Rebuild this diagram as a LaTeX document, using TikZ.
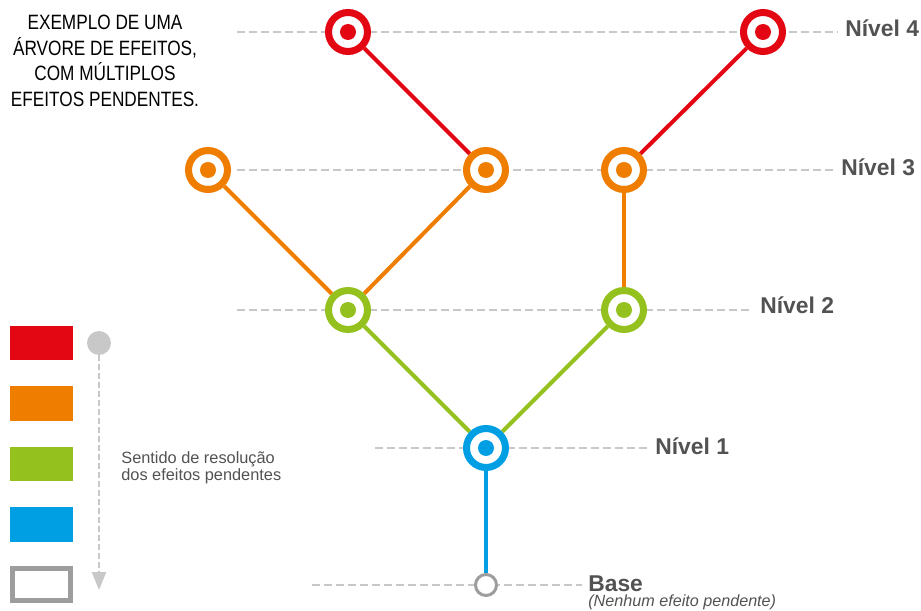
\documentclass[tikz,border=0pt]{standalone}
\usepackage{fontspec}
\setmainfont{Liberation Sans}
\newfontfamily\titlefont[FakeStretch=0.83]{Liberation Sans}
\usepackage{xcolor}
\usetikzlibrary{arrows.meta,backgrounds}

\definecolor{effred}{HTML}{E30613}
\definecolor{efforange}{HTML}{EF7D00}
\definecolor{effgreen}{HTML}{95C11F}
\definecolor{effblue}{HTML}{009FE3}
\definecolor{guidegray}{HTML}{C8C8C8}
\definecolor{basegray}{HTML}{9D9D9D}
\definecolor{labelgray}{HTML}{525252}

\tikzset{
  effect/.style={circle,draw=#1,line width=0.14cm,fill=white,minimum size=0.78cm,inner sep=0pt,
    path picture={\fill[#1] (path picture bounding box.center) circle (0.16cm);}},
  basept/.style={circle,draw=basegray,line width=0.06cm,fill=white,minimum size=0.42cm,inner sep=0pt},
  link/.style={draw=#1,line width=0.08cm},
  guide/.style={draw=guidegray,line width=0.055cm,dash pattern=on 0.16cm off 0.08cm,shorten >=0.16cm},
  level/.style={anchor=base west,inner sep=0pt,text=labelgray,font=\bfseries\fontsize{13}{15}\selectfont},
  legbox/.style={fill=#1,minimum width=1.26cm,minimum height=0.7cm,inner sep=0pt},
}

\begin{document}
\begin{tikzpicture}[x=0.02cm,y=-0.02cm]
        \useasboundingbox (0,0) rectangle (921,611);
        \node[align=center,font=\titlefont\fontsize{11.8}{14.5}\selectfont] (title) at (105,61)
            {EXEMPLO DE UMA\\ÁRVORE DE EFEITOS,\\COM MÚLTIPLOS\\EFEITOS PENDENTES.};
        % levels
        \node[level] (lv4) at (845,37) {Nível 4};
        \node[level] (lv3) at (841,176) {Nível 3};
        \node[level] (lv2) at (760,314) {Nível 2};
        \node[level] (lv1) at (655,455) {Nível 1};
        \node[level] (lvb) at (588,592) {Base};
        \node[anchor=base west,inner sep=0pt,text=labelgray,font=\itshape\fontsize{9.2}{11}\selectfont] (none) at (588,607) {(Nenhum efeito pendente)};
        % effects
        \node[effect=effred] (r1) at (348,32) {};
        \node[effect=effred] (r2) at (763,32) {};
        \node[effect=efforange] (o1) at (208,170) {};
        \node[effect=efforange] (o2) at (486,170) {};
        \node[effect=efforange] (o3) at (624,170) {};
        \node[effect=effgreen] (g1) at (348,310) {};
        \node[effect=effgreen] (g2) at (624,310) {};
        \node[effect=effblue] (b1) at (486,448) {};
        \node[basept] (base) at (486,585) {};
        \begin{scope}[on background layer]
            \draw[guide] (237,32) -- (lv4.west |- r1);
            \draw[guide] (237,170) -- (lv3.west |- o1);
            \draw[guide] (237,310) -- (lv2.west |- g1);
            \draw[guide] (375,448) -- (lv1.west |- b1);
            \draw[guide,shorten >=0.12cm] (312,585) -- (lvb.west |- base);
            \draw[link=effred] (r1) -- (o2);
            \draw[link=effred] (r2) -- (o3);
            \draw[link=efforange] (o1) -- (g1);
            \draw[link=efforange] (o2) -- (g1);
            \draw[link=efforange] (o3) -- (g2);
            \draw[link=effgreen] (g1) -- (b1);
            \draw[link=effgreen] (g2) -- (b1);
            \draw[link=effblue] (b1) -- (base);
        \end{scope}
        % legend
        \node[legbox=effred] (kred) at (41.5,343) {};
        \node[legbox=efforange] (korange) at (41.5,403.5) {};
        \node[legbox=effgreen] (kgreen) at (41.5,464) {};
        \node[legbox=effblue] (kblue) at (41.5,524.5) {};
        \node[draw=basegray,fill=white,line width=0.1cm,minimum width=1.16cm,minimum height=0.64cm,inner sep=0pt] (kbase) at (41.5,584.5) {};
        \node[circle,fill=guidegray,minimum size=0.48cm,inner sep=0pt] (start) at (99,343) {};
        \coordinate (stop) at (99,590);
        \draw[draw=guidegray,line width=0.05cm,dash pattern=on 0.12cm off 0.06cm,
              -{Triangle[length=0.36cm,width=0.28cm,fill=guidegray]}] (start) -- (stop);
        \node[anchor=base west,align=left,inner sep=0pt,text=labelgray,font=\fontsize{9.3}{8.6}\selectfont] (sense) at (121,481)
            {Sentido de resolução\\dos efeitos pendentes};
    \end{tikzpicture}
\end{document}
